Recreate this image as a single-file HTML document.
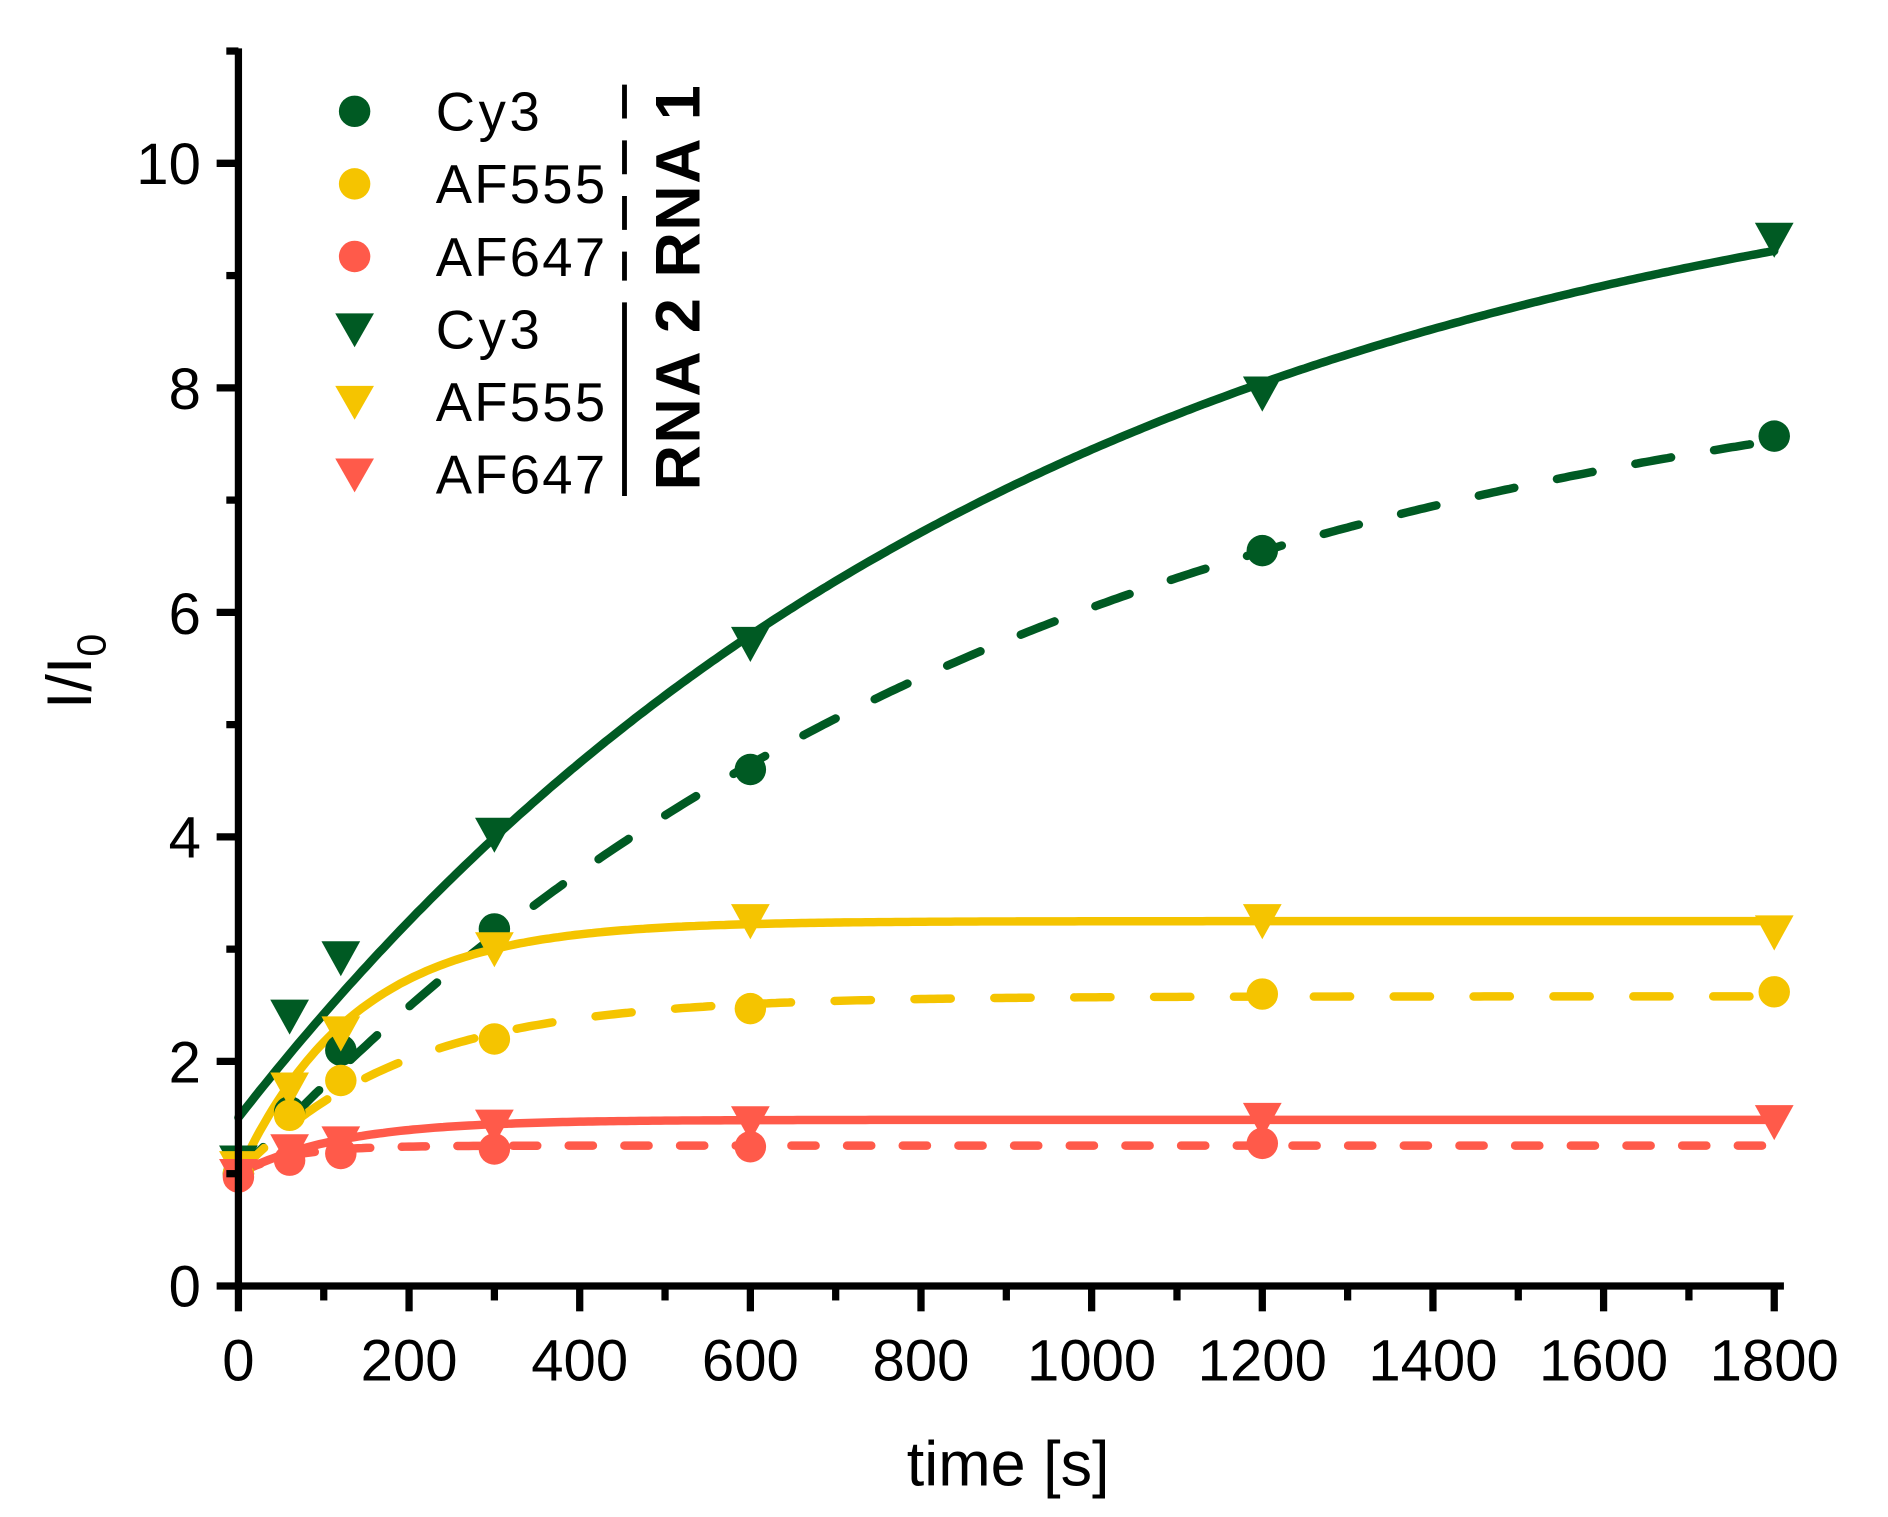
<!DOCTYPE html>
<html><head><meta charset="utf-8"><style>
html,body{margin:0;padding:0;background:#fff;}
svg{display:block;}
text{font-family:"Liberation Sans",Arial,sans-serif;}
</style></head><body>
<svg id="s" width="1888" height="1517" viewBox="0 0 1560 1254" preserveAspectRatio="none" xmlns="http://www.w3.org/2000/svg">
<rect width="1560" height="1254" fill="#fff"/>
<g id="plot"></g>
<g stroke="#000" stroke-width="6" fill="none" id="axes">
<line x1="197" y1="40" x2="197" y2="1066"/>
<line x1="179" y1="1063" x2="1474" y2="1063"/>
</g>
<g font-size="48" fill="#000" text-anchor="end">
<text x="166" y="1080">0</text>
<text x="166" y="895">2</text>
<text x="166" y="709">4</text>
<text x="166" y="524">6</text>
<text x="166" y="338">8</text>
<text x="166" y="152">10</text>
</g>
<g font-size="48" fill="#000" text-anchor="middle">
<text x="197" y="1141">0</text>
<text x="338" y="1141">200</text>
<text x="479" y="1141">400</text>
<text x="620" y="1141">600</text>
<text x="761" y="1141">800</text>
<text x="902" y="1141">1000</text>
<text x="1043" y="1141">1200</text>
<text x="1184" y="1141">1400</text>
<text x="1325" y="1141">1600</text>
<text x="1466" y="1141">1800</text>
</g>
<text x="833" y="1228" font-size="52" text-anchor="middle">time [s]</text>
<text transform="translate(75,555) rotate(-90)" font-size="52" text-anchor="middle">I/I<tspan font-size="34" dy="12">0</tspan></text>
<g font-size="45" fill="#000">
<text x="360" y="108" textLength="86">Cy3</text>
<text x="360" y="168" textLength="140">AF555</text>
<text x="360" y="228" textLength="140">AF647</text>
<text x="360" y="288" textLength="86">Cy3</text>
<text x="360" y="348" textLength="140">AF555</text>
<text x="360" y="408" textLength="140">AF647</text>
</g>
<circle cx="293" cy="92" r="13" fill="#005a23"/>
<circle cx="293" cy="152" r="13" fill="#f5c400"/>
<circle cx="293" cy="212" r="13" fill="#ff5a4a"/>
<path d="M277 259 L309 259 L293 287 Z" fill="#005a23"/>
<path d="M277 319 L309 319 L293 347 Z" fill="#f5c400"/>
<path d="M277 379 L309 379 L293 407 Z" fill="#ff5a4a"/>
<line x1="516" y1="70" x2="516" y2="232" stroke="#000" stroke-width="4" stroke-dasharray="28,18"/>
<line x1="516" y1="250" x2="516" y2="410" stroke="#000" stroke-width="4"/>
<text transform="translate(578,238) rotate(-90)" font-size="52" font-weight="bold" text-anchor="middle" textLength="335">RNA 2 RNA 1</text>
</svg>
<script>
var NS="http://www.w3.org/2000/svg";
function X(t){return 197+t*0.705;}
function Y(v){return 1063-v*92.8;}
var G="#005a23",Yl="#f5c400",R="#ff5a4a";
var plot=document.getElementById("plot");
var ax=document.getElementById("axes");
function el(tag,attrs,parent){var e=document.createElementNS(NS,tag);for(var k in attrs)e.setAttribute(k,attrs[k]);(parent||plot).appendChild(e);return e;}
for(var v=1;v<=11;v++){var maj=v%2==0;el("line",{x1:197-(maj?18:10),y1:Y(v),x2:197,y2:Y(v)},ax);}
for(var t=0;t<=1800;t+=100){var maj=t%200==0;el("line",{x1:X(t),y1:1063,x2:X(t),y2:1063+(maj?21:12)},ax);}
function curve(f,col,dash,t1){var p=[];for(var t=0;t<=(t1||1800);t+=5)p.push(X(t).toFixed(1)+","+Y(f(t)).toFixed(1));
 var a={points:p.join(" "),fill:"none",stroke:col,"stroke-width":7,"stroke-linecap":"round"};if(dash)a["stroke-dasharray"]=dash;el("polyline",a);}
function circ(t,v,col){el("circle",{cx:X(t),cy:Y(v),r:13,fill:col});}
function tri(t,v,col){var x=X(t),y=Y(v);el("path",{d:"M"+(x-16)+" "+(y-14)+" L"+(x+16)+" "+(y-14)+" L"+x+" "+(y+15)+" Z",fill:col});}
curve(function(t){return 1+7.6*(1-Math.exp(-t/918));},G,"30,36");
curve(function(t){return 1+1.58*(1-Math.exp(-t/192));},Yl,"30,36");
curve(function(t){return 1+0.25*(1-Math.exp(-t/60));},R,"20,26",1790);
curve(function(t){return 1.5+9.01*(1-Math.exp(-t/926));},G);
curve(function(t){return 1+2.25*(1-Math.exp(-t/136));},Yl);
curve(function(t){return 1+0.48*(1-Math.exp(-t/120));},R);
[[0,1],[60,1.55],[120,2.1],[300,3.18],[600,4.6],[1200,6.55],[1800,7.57]].forEach(function(d){circ(d[0],d[1],G);});
[[0,1],[60,1.52],[120,1.83],[300,2.2],[600,2.47],[1200,2.6],[1800,2.62]].forEach(function(d){circ(d[0],d[1],Yl);});
[[0,0.97],[60,1.12],[120,1.18],[300,1.22],[600,1.24],[1200,1.27]].forEach(function(d){circ(d[0],d[1],R);});
[[0,1.1],[60,2.4],[120,2.92],[300,4.02],[600,5.72],[1200,7.95],[1800,9.32]].forEach(function(d){tri(d[0],d[1],G);});
[[0,1.05],[60,1.75],[120,2.25],[300,3.0],[600,3.25],[1200,3.25],[1800,3.15]].forEach(function(d){tri(d[0],d[1],Yl);});
[[0,0.98],[60,1.2],[120,1.27],[300,1.42],[600,1.45],[1200,1.48],[1800,1.46]].forEach(function(d){tri(d[0],d[1],R);});
</script>
</body></html>
